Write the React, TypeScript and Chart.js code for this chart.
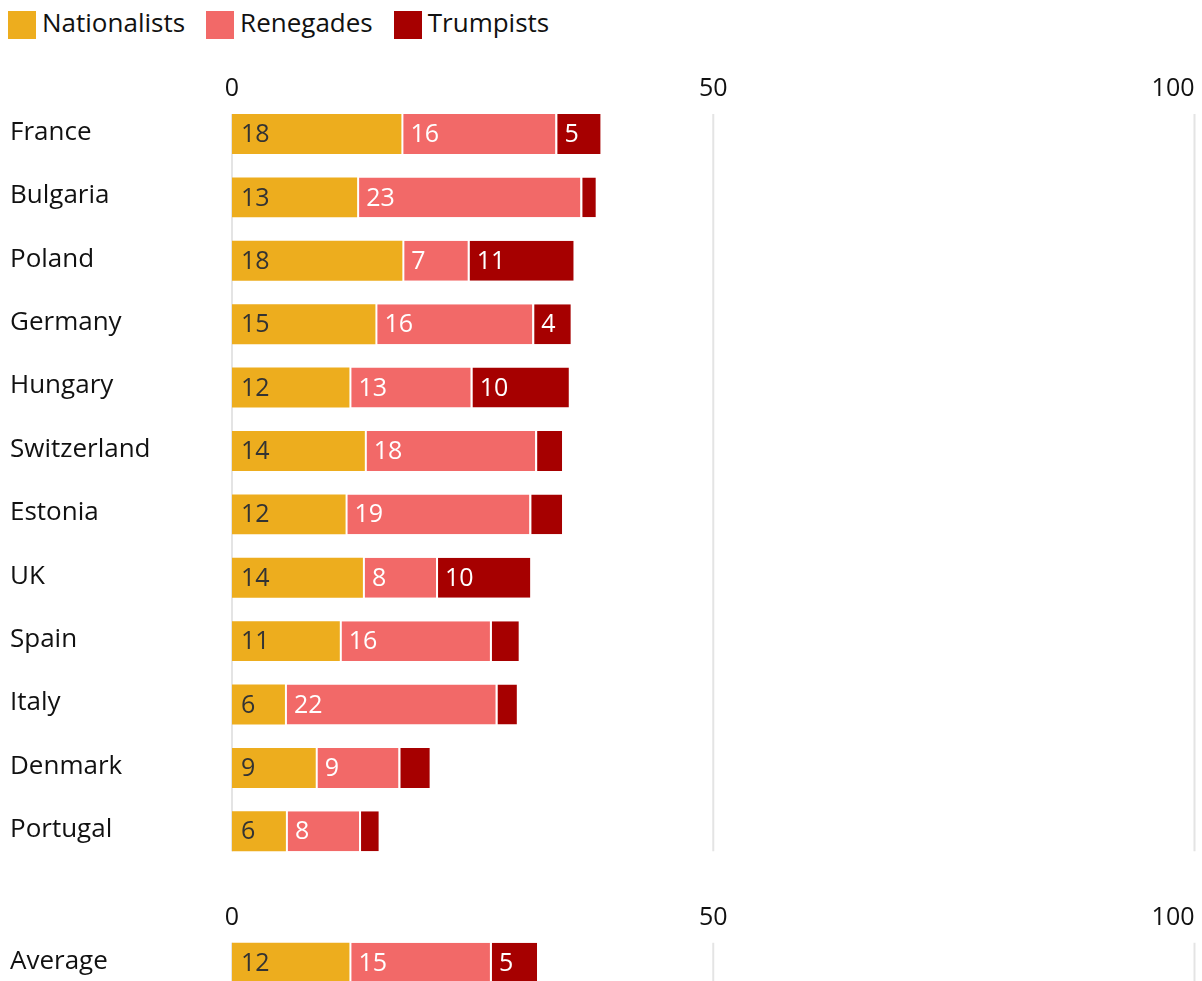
import React, { useEffect, useRef } from "react";
import { Chart, registerables } from "chart.js";

Chart.register(...registerables);

// ---------- data ----------
const countries = [
  "France",
  "Bulgaria",
  "Poland",
  "Germany",
  "Hungary",
  "Switzerland",
  "Estonia",
  "UK",
  "Spain",
  "Italy",
  "Denmark",
  "Portugal",
];
const nationalists = [17.6, 13.0, 17.7, 14.9, 12.2, 13.8, 11.8, 13.6, 11.2, 5.5, 8.7, 5.6];
const renegades = [16.0, 23.2, 6.8, 16.3, 12.6, 17.7, 19.1, 7.6, 15.6, 21.9, 8.6, 7.6];
const trumpists = [4.7, 1.6, 11.0, 4.0, 10.2, 2.8, 3.4, 9.8, 3.0, 2.2, 3.25, 2.05];

const averageLabel = ["Average"];
const averageNationalists = [12.2];
const averageRenegades = [14.6];
const averageTrumpists = [4.9];

const seriesNames = ["Nationalists", "Renegades", "Trumpists"];
const xTicks = [0, 50, 100];

// ---------- styles ----------
const FONT_FAMILY = "'Open Sans', sans-serif";
const COLORS = ["#EDAD1E", "#F26968", "#A60000"];
const LABEL_COLORS = ["#333333", "#ffffff", "#ffffff"];
const TEXT = "#111111";
const GRID = "#e4e4e4";

const overlayPlugin = {
  id: "overlay",
  beforeDatasetsDraw(chart: any) {
    const { ctx, chartArea } = chart;
    const x = chart.scales.x;
    const meta = chart.getDatasetMeta(0);
    const first = meta.data[0];
    const last = meta.data[meta.data.length - 1];
    const top = first.y - first.height / 2;
    const bottom = last.y + last.height / 2;
    ctx.save();
    ctx.strokeStyle = GRID;
    ctx.lineWidth = 2;
    ctx.fillStyle = TEXT;
    ctx.font = `25px ${FONT_FAMILY}`;
    ctx.textBaseline = "middle";
    xTicks.forEach((v, i) => {
      const px = x.getPixelForValue(v);
      ctx.beginPath();
      ctx.moveTo(px, top);
      ctx.lineTo(px, bottom);
      ctx.stroke();
      ctx.textAlign = i === xTicks.length - 1 ? "right" : "center";
      ctx.fillText(String(v), px, chartArea.top - 13);
    });
    ctx.restore();
  },
  afterDatasetsDraw(chart: any) {
    const { ctx } = chart;
    ctx.save();
    ctx.font = `25px ${FONT_FAMILY}`;
    ctx.textBaseline = "middle";
    ctx.textAlign = "left";
    chart.data.datasets.forEach((ds: any, di: number) => {
      const meta = chart.getDatasetMeta(di);
      meta.data.forEach((el: any, i: number) => {
        const v = ds.data[i];
        if (v < 3.5) return;
        const left = Math.min(el.x, el.base);
        ctx.fillStyle = LABEL_COLORS[di];
        ctx.fillText(String(Math.round(v)), left + 9, el.y + 1);
      });
    });
    ctx.restore();
  },
};

function makeConfig(labels: string[], n: number[], r: number[], t: number[], padTop: number, padBottom: number) {
  const series = [n, r, t];
  return {
    type: "bar" as const,
    data: {
      labels,
      datasets: series.map((d, i) => ({
        label: seriesNames[i],
        data: d,
        backgroundColor: COLORS[i],
        borderColor: "#ffffff",
        borderWidth: i === 0 ? 0 : { left: 2, top: 0, right: 0, bottom: 0 },
        borderSkipped: false,
        barPercentage: 0.63,
        categoryPercentage: 1,
      })),
    },
    options: {
      indexAxis: "y" as const,
      animation: false as const,
      responsive: false,
      maintainAspectRatio: false,
      layout: { padding: { left: 10, right: 7.5, top: padTop, bottom: padBottom } },
      plugins: {
        legend: { display: false },
        tooltip: { enabled: false },
      },
      scales: {
        x: {
          display: false,
          stacked: true,
          min: 0,
          max: 100,
        },
        y: {
          stacked: true,
          position: "left" as const,
          grid: { display: false },
          border: { display: false },
          ticks: {
            crossAlign: "far" as const,
            color: TEXT,
            font: { family: FONT_FAMILY, size: 26 },
            padding: 0,
            labelOffset: -1.5,
          },
          afterFit: (s: any) => {
            s.width = 222;
          },
        },
      },
    },
    plugins: [overlayPlugin],
  };
}

function BarCanvas(props: {
  labels: string[];
  n: number[];
  r: number[];
  t: number[];
  width: number;
  height: number;
  padTop: number;
  padBottom: number;
  style: React.CSSProperties;
}) {
  const ref = useRef<HTMLCanvasElement | null>(null);
  useEffect(() => {
    if (!ref.current) return;
    const chart = new Chart(
      ref.current,
      makeConfig(props.labels, props.n, props.r, props.t, props.padTop, props.padBottom) as any
    );
    return () => chart.destroy();
  }, []);
  return (
    <div style={{ position: "absolute", width: props.width, height: props.height, ...props.style }}>
      <canvas ref={ref} width={props.width} height={props.height} style={{ width: props.width, height: props.height }} />
    </div>
  );
}

export default function App() {
  return (
    <div
      style={{
        position: "absolute",
        left: 0,
        top: 0,
        width: 1202,
        height: 981,
        overflow: "hidden",
        background: "#ffffff",
        fontFamily: FONT_FAMILY,
      }}
    >
      <div
        style={{
          position: "absolute",
          left: 8,
          top: 11,
          display: "flex",
          alignItems: "center",
          fontSize: 26,
          color: TEXT,
          lineHeight: "28px",
        }}
      >
        {seriesNames.map((name, i) => (
          <div key={name} style={{ display: "flex", alignItems: "center", marginRight: 21 }}>
            <span style={{ display: "inline-block", width: 28, height: 28, background: COLORS[i], marginRight: 6 }} />
            <span style={{ position: "relative", top: -3 }}>{name}</span>
          </div>
        ))}
      </div>
      <BarCanvas
        labels={averageLabel}
        n={averageNationalists}
        r={averageRenegades}
        t={averageTrumpists}
        width={1202}
        height={150}
        padTop={51}
        padBottom={35.3}
        style={{ left: 0, top: 880 }}
      />
      <BarCanvas
        labels={countries}
        n={nationalists}
        r={renegades}
        t={trumpists}
        width={1202}
        height={828}
        padTop={42.3}
        padBottom={25}
        style={{ left: 0, top: 60 }}
      />
    </div>
  );
}
